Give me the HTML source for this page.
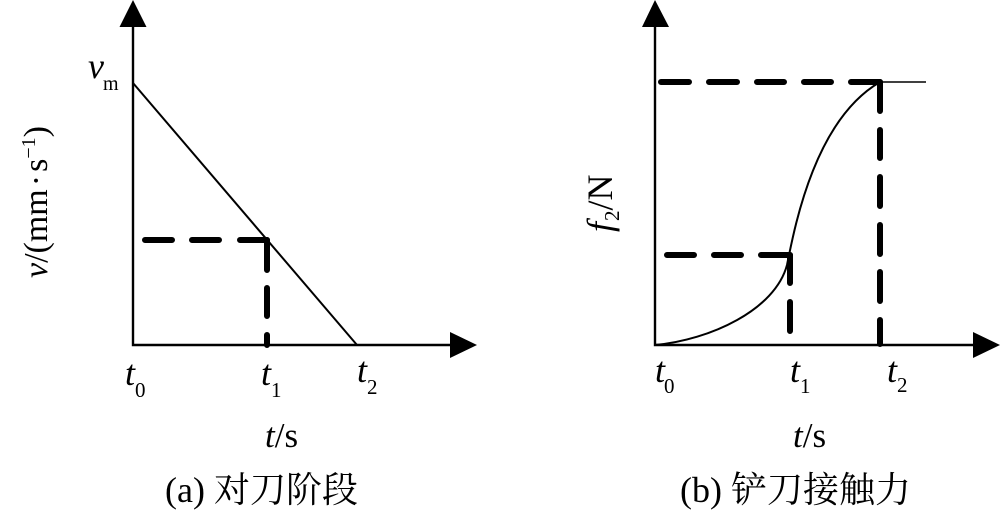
<!DOCTYPE html>
<html>
<head>
<meta charset="utf-8">
<style>
html,body{margin:0;padding:0;background:#fff;}
svg{display:block;}
text{font-family:"Liberation Serif","Noto Serif CJK SC",serif;fill:#000;}
.i{font-style:italic;}
</style>
</head>
<body>
<svg width="1000" height="510" viewBox="0 0 1000 510" xmlns="http://www.w3.org/2000/svg">
<rect width="1000" height="510" fill="#fff"/>
<!-- left chart -->
<path d="M133 27V345H450" fill="none" stroke="#000" stroke-width="2.4"/>
<path d="M133 0L119.500 27H146.500Z" fill="#000"/>
<path d="M450 332L477 345L450 358Z" fill="#000"/>
<path d="M133 83L357 345" fill="none" stroke="#000" stroke-width="2"/>
<g stroke="#000" stroke-width="6" stroke-linecap="round" fill="none">
<path d="M145 240H172M192 240H219M240 240H267"/>
<path d="M267 240V270M267 288V316M267 335V345"/>
<!-- right chart dashes -->
<path d="M661 82H689M709 82H737M757 82H784M804 82H831M851 82H880"/>
<path d="M880 82V111M880 130V158M880 177V206M880 225V254M880 272V301M880 320V344"/>
<path d="M667 255H694M714 255H741M761 255H790"/>
<path d="M790 255V283M790 302V331"/>
</g>
<!-- right chart -->
<path d="M655 27V345H973" fill="none" stroke="#000" stroke-width="2.4"/>
<path d="M655 0L642 27H669Z" fill="#000"/>
<path d="M973 332L1000 345L973 358Z" fill="#000"/>
<path d="M880 82H926" fill="none" stroke="#000" stroke-width="1.500"/>
<path d="M655 345C710 340 775 310 787 265C795 225 815 120 880 82" fill="none" stroke="#000" stroke-width="2"/>
<!-- left labels -->
<text x="88" y="78" class="i" font-size="36">v</text>
<text x="103" y="90" font-size="20">m</text>
<text x="125" y="385" class="i" font-size="36">t</text>
<text x="135" y="397" font-size="21">0</text>
<text x="261" y="385" class="i" font-size="36">t</text>
<text x="271" y="397" font-size="21">1</text>
<text x="357" y="382" class="i" font-size="36">t</text>
<text x="367" y="394" font-size="21">2</text>
<text x="265" y="447" font-size="35"><tspan class="i">t</tspan>/s</text>
<text x="165" y="502" font-size="36">(a) 对刀阶段</text>
<g transform="translate(47 278) rotate(-90)">
<text x="0" y="0" font-size="34"><tspan class="i">v</tspan>/(mm<tspan dx="3">·</tspan><tspan dx="3">s</tspan><tspan dy="-12" font-size="20">−1</tspan><tspan dy="12">)</tspan></text>
</g>
<!-- right labels -->
<text x="655" y="382" class="i" font-size="36">t</text>
<text x="664" y="393" font-size="21">0</text>
<text x="790" y="382" class="i" font-size="36">t</text>
<text x="800" y="393" font-size="21">1</text>
<text x="887" y="382" class="i" font-size="36">t</text>
<text x="897" y="392" font-size="21">2</text>
<text x="793" y="447" font-size="35"><tspan class="i">t</tspan>/s</text>
<text x="680" y="502" font-size="36">(b) 铲刀接触力</text>
<g transform="translate(612 232) rotate(-90)">
<text x="0" y="0" font-size="36"><tspan class="i">f</tspan><tspan font-size="21" dy="7" dx="1">2</tspan><tspan dy="-7">/N</tspan></text>
</g>
</svg>
</body>
</html>
